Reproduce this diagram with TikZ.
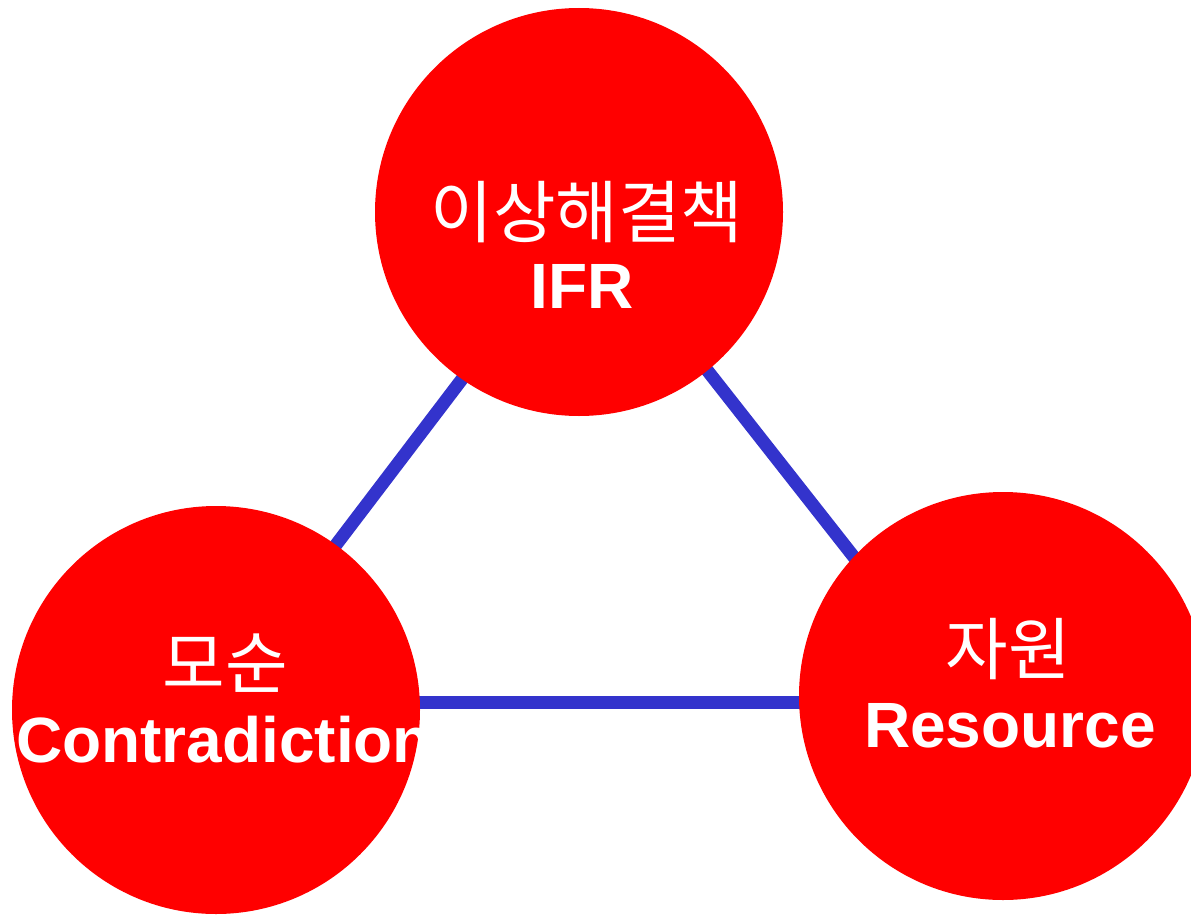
\documentclass[tikz,border=0pt]{standalone}
\usepackage{fontspec}
\setmainfont{Liberation Sans}
\newfontfamily\krfont{Noto Sans CJK KR}
\usetikzlibrary{backgrounds}
\definecolor{ballred}{RGB}{255,0,0}
\definecolor{linkblue}{RGB}{51,51,204}
\begin{document}
\begin{tikzpicture}[x=1pt,y=-1pt,
  ball/.style={circle,fill=ballred,draw=none,minimum size=408pt,inner sep=0pt},
  link/.style={draw=linkblue,line width=13pt,shorten <=-8pt,shorten >=-8pt},
  kor/.style={text=white,font=\krfont\fontsize{68}{74}\selectfont,inner sep=0pt},
  eng/.style={text=white,font=\bfseries\fontsize{64}{70}\selectfont,inner sep=0pt,anchor=base}]
\useasboundingbox (0,0) rectangle (1191,915);
\clip (0,0) rectangle (1191,915);
% the three circles
\node[ball] (ifr) at (579,212) {};
\node[ball] (con) at (216,710) {};
\node[ball] (res) at (1003,696) {};
% connectors behind the circles
\begin{scope}[on background layer]
  \draw[link] (ifr.235) -- (con.54);
  \draw[link] (ifr.309) -- (res.137);
  \draw[link] (con.2) -- (con.2 -| res.west);
\end{scope}
% labels
\node[kor] (ifrk) at (587,212) {이상해결책};
\node[eng] (ifre) at (582,308) {IFR};
\node[kor] (conk) at (225,663) {모순};
\node[eng] (cone) at (224,762) {Contradiction};
\node[kor] (resk) at (1008,649) {자원};
\node[eng] (rese) at (1010,747) {Resource};
\end{tikzpicture}
\end{document}
